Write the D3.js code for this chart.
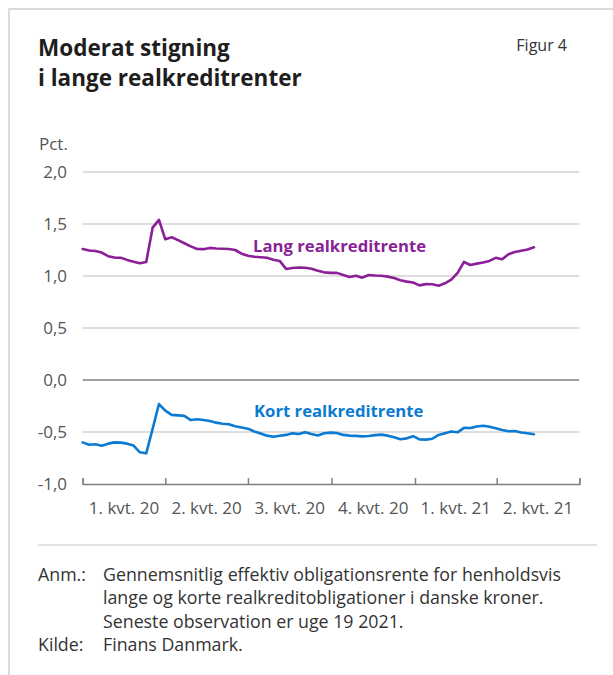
<!DOCTYPE html>
<html lang="da">
<head>
<meta charset="utf-8">
<script src="https://cdn.jsdelivr.net/npm/d3@7"></script>
<style>
  html, body { margin: 0; padding: 0; background: #fff; }
  svg { display: block; font-family: "Open Sans", "Noto Sans", sans-serif; }
</style>
</head>
<body>
<svg id="chart" width="613" height="675"></svg>
<script>
// Weekly observations, from the first week of 2020 to week 19 2021
const firstObs = new Date(2020, 0, 1);
const nObs = 72;
const weeks = d3.range(nObs).map(k => d3.timeDay.offset(firstObs, 7 * k));

// Long-term mortgage bond yield (pct.)
const langRente = [
  1.26, 1.245, 1.24, 1.225, 1.19, 1.177, 1.176, 1.155, 1.138, 1.122,
  1.135, 1.465, 1.54, 1.353, 1.372, 1.345, 1.315, 1.285, 1.26, 1.258,
  1.27, 1.265, 1.262, 1.26, 1.25, 1.215, 1.195, 1.185, 1.18, 1.175,
  1.157, 1.145, 1.068, 1.077, 1.082, 1.08, 1.07, 1.05, 1.035, 1.03,
  1.03, 1.01, 0.99, 1.003, 0.984, 1.01, 1.005, 1.003, 0.994, 0.98,
  0.96, 0.946, 0.937, 0.91, 0.922, 0.92, 0.907, 0.93, 0.965, 1.03,
  1.135, 1.106, 1.119, 1.13, 1.145, 1.175, 1.16, 1.21, 1.23, 1.243,
  1.255, 1.276
];

// Short-term mortgage bond yield (pct.)
const kortRente = [
  -0.60, -0.622, -0.618, -0.632, -0.612, -0.60, -0.602, -0.612, -0.63, -0.695,
  -0.705, -0.47, -0.231, -0.295, -0.335, -0.34, -0.345, -0.385, -0.378, -0.385,
  -0.395, -0.41, -0.42, -0.426, -0.445, -0.457, -0.468, -0.495, -0.515, -0.535,
  -0.545, -0.536, -0.528, -0.513, -0.519, -0.503, -0.52, -0.533, -0.512, -0.506,
  -0.51, -0.528, -0.535, -0.537, -0.542, -0.538, -0.53, -0.525, -0.535, -0.55,
  -0.57, -0.561, -0.54, -0.571, -0.573, -0.565, -0.528, -0.512, -0.495, -0.503,
  -0.46, -0.462, -0.447, -0.44, -0.45, -0.465, -0.481, -0.493, -0.49, -0.505,
  -0.512, -0.522
];

const yTicks = [2.0, 1.5, 1.0, 0.5, 0.0, -0.5, -1.0];
const quarterLabels = ["1. kvt. 20", "2. kvt. 20", "3. kvt. 20", "4. kvt. 20", "1. kvt. 21", "2. kvt. 21"];
const seriesNames = ["Lang realkreditrente", "Kort realkreditrente"];
const seriesColors = ["#8b1f98", "#0b7ad2"];

const title = ["Moderat stigning", "i lange realkreditrenter"];
const figLabel = "Figur 4";
const unitLabel = "Pct.";
const noteRows = [
  ["Anm.:", "Gennemsnitlig effektiv obligationsrente for henholdsvis"],
  ["", "lange og korte realkreditobligationer i danske kroner."],
  ["", "Seneste observation er uge 19 2021."],
  ["Kilde:", "Finans Danmark."]
];

const svg = d3.select("#chart");
const W = 613, H = 675;

// Panel frame (top and left edges)
svg.append("path")
  .attr("d", `M9,${H} L9,9 L${W},9`)
  .attr("fill", "none").attr("stroke", "#cfcfcf").attr("stroke-width", 1.5);

// Title block, one text element per line
svg.append("g")
  .attr("font-size", 22.5).attr("font-weight", 700).attr("fill", "#1e1e1e")
  .selectAll("text").data(title).join("text")
  .attr("x", 38).attr("y", (d, i) => 56 + i * 29.5)
  .text(d => d);

svg.append("text")
  .attr("x", 567).attr("y", 51).attr("text-anchor", "end")
  .attr("font-size", 16).attr("fill", "#333").text(figLabel);

// Scales
const x = d3.scaleTime()
  .domain([new Date(2020, 0, 1), new Date(2021, 6, 1)])
  .range([82.7, 579.3]);
const y = d3.scaleLinear().domain([-1, 2]).range([484, 172]);

// Unit label
svg.append("text")
  .attr("x", 39).attr("y", 150)
  .attr("font-size", 17).attr("fill", "#555").text(unitLabel);

// Horizontal gridlines
svg.append("g").selectAll("line").data(yTicks.filter(v => v !== 0 && v !== -1)).join("line")
  .attr("x1", x.range()[0]).attr("x2", x.range()[1])
  .attr("y1", d => y(d)).attr("y2", d => y(d))
  .attr("stroke", "#d3d3d3").attr("stroke-width", 1.5);

// Zero line
svg.append("line")
  .attr("x1", x.range()[0]).attr("x2", x.range()[1])
  .attr("y1", y(0)).attr("y2", y(0))
  .attr("stroke", "#808080").attr("stroke-width", 1.5);

// Y tick labels
svg.append("g").selectAll("text").data(yTicks).join("text")
  .attr("x", 67).attr("y", d => y(d)).attr("dy", "0.35em")
  .attr("text-anchor", "end").attr("font-size", 17).attr("fill", "#555")
  .text(d => d3.format(".1f")(d).replace(".", ",").replace("−", "-"));

// X axis at the bottom of the plot, quarter ticks pointing up
const quarterStarts = d3.timeMonth.every(3).range(new Date(2020, 0, 1), new Date(2021, 6, 2));
const xAxis = d3.axisBottom(x)
  .tickValues(quarterStarts)
  .tickSize(-6)
  .tickFormat("");
const gx = svg.append("g").attr("transform", `translate(0,${y(-1)})`).call(xAxis);
gx.select(".domain").attr("stroke", "#808080").attr("stroke-width", 1.5);
gx.selectAll(".tick line").attr("stroke", "#808080").attr("stroke-width", 1.5);

// Quarter labels centred between ticks
svg.append("g").selectAll("text").data(quarterLabels).join("text")
  .attr("x", (d, i) => (x(quarterStarts[i]) + x(quarterStarts[i + 1])) / 2)
  .attr("y", 508).attr("dy", "0.35em")
  .attr("text-anchor", "middle").attr("font-size", 17).attr("fill", "#555")
  .text(d => d);

// Lines
const line = d3.line()
  .x(d => x(d[0]))
  .y(d => y(d[1]))
  .curve(d3.curveLinear);

[langRente, kortRente].forEach((vals, s) => {
  svg.append("path")
    .datum(weeks.map((w, i) => [w, vals[i]]))
    .attr("d", line)
    .attr("fill", "none")
    .attr("stroke", seriesColors[s])
    .attr("stroke-width", 2.6)
    .attr("stroke-linejoin", "round")
    .attr("stroke-linecap", "round");
});

// Series labels
const seriesLabelPos = [[253, 1.29], [254, -0.30]];
svg.append("g").selectAll("text").data(seriesNames).join("text")
  .attr("x", (d, i) => seriesLabelPos[i][0])
  .attr("y", (d, i) => y(seriesLabelPos[i][1]))
  .attr("dy", "0.35em")
  .attr("font-size", 16.7).attr("font-weight", 700)
  .attr("fill", (d, i) => seriesColors[i])
  .text(d => d);

// Separator above the notes
svg.append("line")
  .attr("x1", 38).attr("x2", 597).attr("y1", 545).attr("y2", 545)
  .attr("stroke", "#c8c8c8").attr("stroke-width", 1.2);

// Notes and source
const notes = svg.append("g").attr("font-size", 17.8).attr("fill", "#333");
noteRows.forEach((r, i) => {
  const yy = 581 + i * 23.3;
  notes.append("text").attr("x", 38).attr("y", yy).text(r[0]);
  notes.append("text").attr("x", 103).attr("y", yy).text(r[1]);
});
</script>
</body>
</html>
